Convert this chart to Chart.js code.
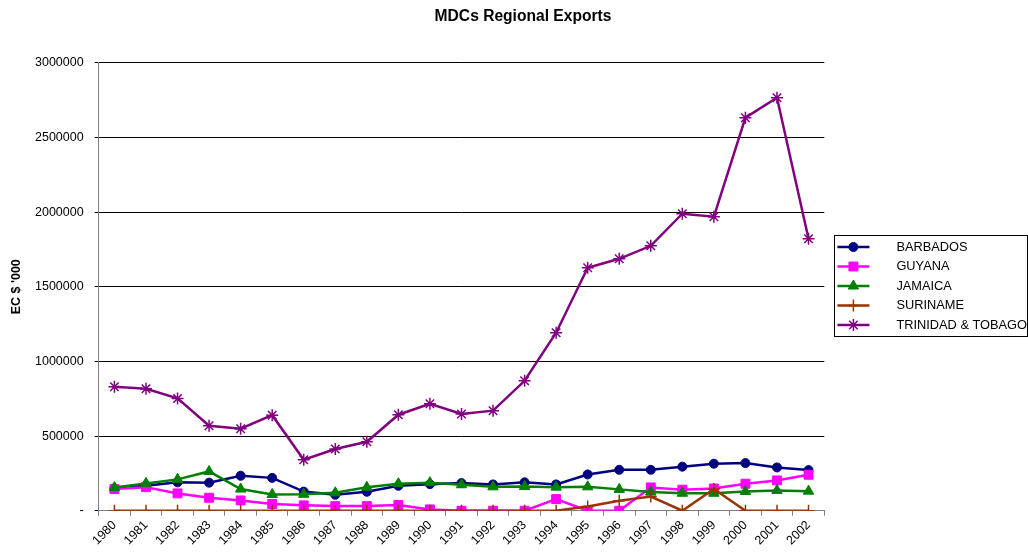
<!DOCTYPE html>
<html>
<head>
<meta charset="utf-8">
<script src="https://cdn.jsdelivr.net/npm/chart.js@4/dist/chart.umd.min.js"></script>
<style>
  html, body { margin: 0; padding: 0; background: #fff; }
  #wrap { width: 1028px; height: 555px; }
</style>
</head>
<body>
<div id="wrap"><canvas id="exportsChart" width="1028" height="555"></canvas></div>
<script>
const years = ['1980', '1981', '1982', '1983', '1984', '1985', '1986', '1987', '1988', '1989', '1990', '1991',
    '1992', '1993', '1994', '1995', '1996', '1997', '1998', '1999', '2000', '2001', '2002'];

const barbados = [150000, 168000, 190000, 188000, 234000, 220000, 128000, 107000, 127000, 167000, 178000, 185000,
    176000, 190000, 176000, 243000, 274000, 274000, 295000, 315000, 319000, 290000, 272000];
const guyana = [145000, 158000, 116000, 87000, 69000, 45000, 36000, 31000, 31000, 38000, 9000, 0,
    0, 0, 78000, 0, 0, 156000, 141000, 149000, 181000, 203000, 241000];
const jamaica = [155000, 183000, 210000, 263000, 145000, 109000, 110000, 120000, 157000, 181000, 188000, 174000,
    160000, 162000, 158000, 160000, 143000, 125000, 117000, 117000, 129000, 136000, 131000];
const suriname = [0, 0, 0, 0, 0, 0, 0, 0, 0, 0, 0, 0,
    0, 0, 0, 29000, 67000, 95000, 0, 145000, 0, 0, 0];
const trinidad = [830000, 817000, 752000, 569000, 549000, 640000, 341000, 413000, 462000, 643000, 716000, 648000,
    670000, 870000, 1192000, 1627000, 1687000, 1774000, 1989000, 1969000, 2632000, 2766000, 1821000];

const yTicks = [0, 500000, 1000000, 1500000, 2000000, 2500000, 3000000];

const FONT = '"Liberation Sans", Arial, sans-serif';
const LEGEND_FONT = 12.8;
const LEGEND_BOX = 59;

const series = (label, data, color, pointStyle, radius, order) => ({
    label: label,
    data: data,
    borderColor: color,
    backgroundColor: color,
    pointBackgroundColor: color,
    pointBorderColor: color,
    pointStyle: pointStyle,
    pointRadius: radius,
    pointBorderWidth: pointStyle === 'cross' || pointStyle === 'star' ? 1.5 : 1,
    borderWidth: 2.5,
    tension: 0,
    order: order
});

// legend entries get a line sample with the marker on it, plus a frame round the list
const legendSamples = {
    id: 'legendSamples',
    afterDraw(chart) {
        const legend = chart.legend;
        if (!legend || !legend.legendHitBoxes) return;
        const ctx = chart.ctx;
        const boxes = legend.legendHitBoxes;
        const textX = hb => hb.left + LEGEND_BOX + LEGEND_FONT / 2;
        ctx.save();
        boxes.forEach((hb, i) => {
            const ds = chart.data.datasets[legend.legendItems[i].datasetIndex];
            const y = hb.top + hb.height / 2;
            const x1 = textX(hb) - 27;
            const x0 = x1 - 32;
            ctx.strokeStyle = ds.borderColor;
            ctx.lineWidth = 2.5;
            ctx.beginPath();
            ctx.moveTo(x0, y);
            ctx.lineTo(x1, y);
            ctx.stroke();
            ctx.fillStyle = ds.borderColor;
            ctx.lineWidth = ds.pointBorderWidth;
            Chart.helpers.drawPoint(ctx, {
                pointStyle: ds.pointStyle,
                radius: ds.pointRadius,
                borderWidth: ds.pointBorderWidth,
                rotation: 0
            }, (x0 + x1) / 2, y);
        });
        const first = boxes[0];
        const last = boxes[boxes.length - 1];
        const left = Math.round(textX(first) - 62) + 0.5;
        const top = Math.round(first.top - 6) + 0.5;
        const bottom = Math.round(last.top + last.height + 5) + 0.5;
        ctx.strokeStyle = '#000';
        ctx.lineWidth = 1;
        ctx.strokeRect(left, top, chart.width - 0.5 - left, bottom - top);
        ctx.restore();
    }
};

const ctx = document.getElementById('exportsChart').getContext('2d');

new Chart(ctx, {
    type: 'line',
    data: {
        labels: years,
        datasets: [
            series('BARBADOS', barbados, '#000080', 'circle', 4.5, 4),
            series('GUYANA', guyana, '#FF00FF', 'rect', 6.3, 3),
            series('JAMAICA', jamaica, '#008000', 'triangle', 6, 2),
            series('SURINAME', suriname, '#993300', 'cross', 6, 1),
            series('TRINIDAD & TOBAGO', trinidad, '#800080', 'star', 6, 0)
        ]
    },
    options: {
        responsive: false,
        maintainAspectRatio: false,
        animation: false,
        layout: {
            padding: { left: 9, right: -9, top: 4, bottom: 5 }
        },
        plugins: {
            title: {
                display: true,
                text: 'MDCs Regional Exports',
                color: '#000',
                font: { family: FONT, size: 15.6, weight: 'bold' },
                padding: { top: 3, bottom: 37 }
            },
            legend: {
                position: 'right',
                sort: (a, b) => a.datasetIndex - b.datasetIndex,
                title: {
                    display: true,
                    text: '',
                    font: { family: FONT, size: 5 },
                    padding: { top: 10, bottom: 2 }
                },
                labels: {
                    color: '#000',
                    font: { family: FONT, size: LEGEND_FONT },
                    boxWidth: LEGEND_BOX,
                    boxHeight: 8,
                    padding: 6.7,
                    generateLabels(chart) {
                        return chart.data.datasets.map((ds, i) => ({
                            text: ds.label,
                            fillStyle: 'rgba(0,0,0,0)',
                            strokeStyle: 'rgba(0,0,0,0)',
                            lineWidth: 0,
                            fontColor: '#000',
                            hidden: false,
                            datasetIndex: i
                        }));
                    }
                }
            },
            tooltip: { enabled: false }
        },
        scales: {
            x: {
                offset: true,
                grid: {
                    offset: true,
                    drawOnChartArea: false,
                    tickLength: 5,
                    color: '#808080'
                },
                border: { color: '#808080', width: 1 },
                ticks: {
                    color: '#000',
                    font: { family: FONT, size: 12.5 },
                    minRotation: 45,
                    maxRotation: 45,
                    autoSkip: false,
                    padding: 2
                }
            },
            y: {
                min: 0,
                max: 3000000,
                afterBuildTicks(axis) {
                    axis.ticks = yTicks.map(v => ({ value: v }));
                },
                grid: {
                    color: '#000',
                    lineWidth: 1,
                    tickLength: 4
                },
                border: { color: '#808080', width: 1 },
                ticks: {
                    color: '#000',
                    font: { family: FONT, size: 12.5 },
                    padding: 11,
                    callback: v => (v === 0 ? '-' : String(v))
                },
                title: {
                    display: true,
                    text: "EC $ '000",
                    color: '#000',
                    font: { family: FONT, size: 12.5, weight: 'bold' },
                    padding: { top: 0, bottom: 0 }
                }
            }
        }
    },
    plugins: [legendSamples]
});
</script>
</body>
</html>
